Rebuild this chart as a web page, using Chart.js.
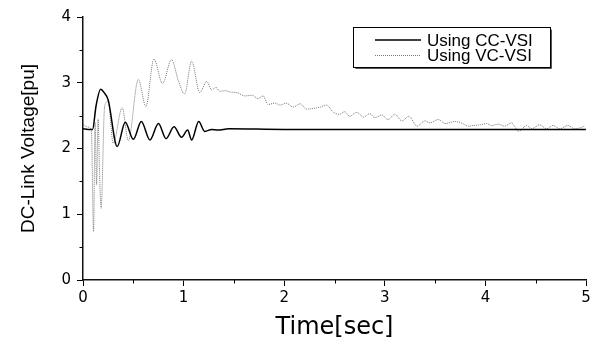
<!DOCTYPE html>
<html>
<head>
<meta charset="utf-8">
<script src="https://cdn.jsdelivr.net/npm/chart.js@4/dist/chart.umd.min.js"></script>
<style>
  html, body { margin: 0; padding: 0; background: #fff; }
  #wrap { width: 600px; height: 343px; position: relative; }
</style>
</head>
<body>
<div id="wrap"><canvas id="c"></canvas></div>
<script>
// ---- data ----
const seriesLabels = ['Using CC-VSI', 'Using VC-VSI'];

const ccTime = [0, 0.05, 0.095, 0.13, 0.175, 0.21, 0.25, 0.34, 0.42, 0.50, 0.58, 0.665, 0.75, 0.825, 0.905, 0.98, 1.04, 1.08, 1.15, 1.21, 1.28, 1.34, 1.45, 2.0, 3.0, 4.0, 5.0];
const ccVolt = [2.30, 2.29, 2.29, 2.65, 2.90, 2.85, 2.74, 2.03, 2.40, 2.14, 2.41, 2.13, 2.38, 2.15, 2.33, 2.17, 2.28, 2.13, 2.41, 2.26, 2.29, 2.28, 2.30, 2.29, 2.29, 2.29, 2.29];

const vcTime = [0, 0.04, 0.083, 0.105, 0.12, 0.135, 0.15, 0.165, 0.18, 0.215, 0.25, 0.30, 0.39, 0.45, 0.55, 0.625, 0.705, 0.79, 0.88, 0.95, 1.01, 1.08, 1.16, 1.23, 1.28, 1.32, 1.36, 1.42, 1.46, 1.53, 1.61, 1.68, 1.74, 1.79, 1.84, 1.91, 1.96, 2.02, 2.09, 2.16, 2.22, 2.29, 2.36, 2.42, 2.49, 2.55, 2.60, 2.65, 2.72, 2.79, 2.85, 2.90, 2.97, 3.03, 3.10, 3.17, 3.24, 3.32, 3.40, 3.45, 3.53, 3.60, 3.70, 3.76, 3.83, 3.88, 3.95, 4.01, 4.06, 4.13, 4.19, 4.26, 4.33, 4.41, 4.46, 4.54, 4.61, 4.67, 4.74, 4.82, 4.89, 4.99];
const vcVolt = [2.37, 2.33, 2.28, 0.73, 2.40, 1.45, 2.45, 1.60, 1.09, 2.64, 2.72, 2.08, 2.62, 2.12, 3.05, 2.64, 3.36, 2.99, 3.35, 3.02, 2.83, 3.33, 2.85, 3.02, 2.89, 2.93, 2.87, 2.88, 2.86, 2.85, 2.80, 2.81, 2.76, 2.80, 2.67, 2.69, 2.66, 2.69, 2.63, 2.68, 2.60, 2.61, 2.63, 2.66, 2.55, 2.52, 2.56, 2.49, 2.55, 2.48, 2.53, 2.47, 2.51, 2.44, 2.52, 2.42, 2.49, 2.34, 2.42, 2.39, 2.44, 2.38, 2.41, 2.39, 2.34, 2.35, 2.36, 2.38, 2.35, 2.37, 2.34, 2.39, 2.26, 2.35, 2.30, 2.36, 2.30, 2.35, 2.30, 2.35, 2.30, 2.34];

const xTitle = 'Time[sec]';
const yTitle = 'DC-Link Voltage[pu]';

function pairs(xs, ys) { return xs.map((x, i) => ({ x: x, y: ys[i] })); }

const isMajor = v => Math.abs(v - Math.round(v)) < 1e-6;

// minor ticks (shorter) drawn from the library's scales
const minorTicks = {
  id: 'minorTicks',
  afterDraw(chart) {
    const ctx = chart.ctx;
    ctx.save();
    ctx.strokeStyle = '#000';
    ctx.lineWidth = 1;
    const xs = chart.scales.x, ys = chart.scales.y;
    xs.ticks.forEach(t => {
      if (isMajor(t.value)) return;
      const p = Math.round(xs.getPixelForValue(t.value)) + 0.5;
      ctx.beginPath(); ctx.moveTo(p, xs.top); ctx.lineTo(p, xs.top + 3.5); ctx.stroke();
    });
    ys.ticks.forEach(t => {
      if (isMajor(t.value)) return;
      const p = Math.round(ys.getPixelForValue(t.value)) + 0.5;
      ctx.beginPath(); ctx.moveTo(ys.right, p); ctx.lineTo(ys.right - 3.5, p); ctx.stroke();
    });
    ctx.restore();
  }
};

// boxed legend like the original
const boxLegend = {
  id: 'boxLegend',
  afterDraw(chart) {
    const ctx = chart.ctx;
    const bx = 353.5, by = 27.5, bw = 197, bh = 40;
    ctx.save();
    ctx.fillStyle = '#fff';
    ctx.fillRect(bx, by, bw, bh);
    ctx.strokeStyle = '#000';
    ctx.lineWidth = 1;
    ctx.strokeRect(bx, by, bw, bh);
    ctx.beginPath();
    ctx.moveTo(bx + bw + 1, by + 2); ctx.lineTo(bx + bw + 1, by + bh + 1); ctx.lineTo(bx + 2, by + bh + 1);
    ctx.strokeStyle = '#555';
    ctx.stroke();
    const rows = [40, 55.5];
    const base = [45.5, 60.5];
    chart.data.datasets.forEach((ds, i) => {
      ctx.beginPath();
      ctx.strokeStyle = ds.borderColor;
      ctx.lineWidth = ds.borderWidth;
      ctx.setLineDash(ds.borderDash || []);
      ctx.moveTo(375, rows[i]); ctx.lineTo(421, rows[i]);
      ctx.stroke();
      ctx.setLineDash([]);
      ctx.fillStyle = '#000';
      ctx.font = '17px "Liberation Sans", Arial, sans-serif';
      ctx.textBaseline = 'alphabetic';
      ctx.fillText(ds.label, 427, base[i]);
    });
    ctx.restore();
  }
};

new Chart(document.getElementById('c'), {
  type: 'line',
  data: {
    datasets: [
      {
        label: seriesLabels[0],
        data: pairs(ccTime, ccVolt),
        borderColor: '#000',
        borderWidth: 1.5,
        pointRadius: 0,
        cubicInterpolationMode: 'monotone',
        fill: false
      },
      {
        label: seriesLabels[1],
        data: pairs(vcTime, vcVolt),
        borderColor: '#777',
        borderWidth: 1,
        borderDash: [1, 1],
        pointRadius: 0,
        cubicInterpolationMode: 'monotone',
        fill: false
      }
    ]
  },
  options: {
    responsive: true,
    maintainAspectRatio: false,
    animation: false,
    layout: { padding: { left: 0, right: 14, top: 17, bottom: 0 } },
    plugins: { legend: { display: false }, tooltip: { enabled: false } },
    scales: {
      x: {
        type: 'linear',
        min: 0, max: 5,
        afterFit: s => { s.height = 63; },
        border: { display: true, color: '#111', width: 1.5 },
        grid: {
          drawOnChartArea: false, drawTicks: true, tickLength: 6,
          tickColor: c => (c.tick && isMajor(c.tick.value)) ? '#000' : 'rgba(0,0,0,0)'
        },
        ticks: {
          stepSize: 0.5, autoSkip: false, maxRotation: 0, padding: 3,
          color: '#000', font: { family: 'DejaVu Sans', size: 15 },
          callback: v => isMajor(v) ? String(Math.round(v)) : ''
        },
        title: {
          display: true, text: xTitle, color: '#000',
          font: { family: 'DejaVu Sans', size: 24 },
          padding: { top: 0, bottom: 1 }
        }
      },
      y: {
        type: 'linear',
        min: 0, max: 4,
        afterFit: s => { s.width = 83; },
        border: { display: true, color: '#111', width: 1.5 },
        grid: {
          drawOnChartArea: false, drawTicks: true, tickLength: 6,
          tickColor: c => (c.tick && isMajor(c.tick.value)) ? '#000' : 'rgba(0,0,0,0)'
        },
        ticks: {
          stepSize: 0.5, autoSkip: false, padding: 6,
          color: '#000', font: { family: 'DejaVu Sans', size: 15 },
          callback: v => isMajor(v) ? String(Math.round(v)) : ''
        },
        title: {
          display: true, text: yTitle, color: '#000',
          font: { family: 'Liberation Sans', size: 19 },
          padding: { top: 17, bottom: 0 }
        }
      }
    }
  },
  plugins: [minorTicks, boxLegend]
});
</script>
</body>
</html>
